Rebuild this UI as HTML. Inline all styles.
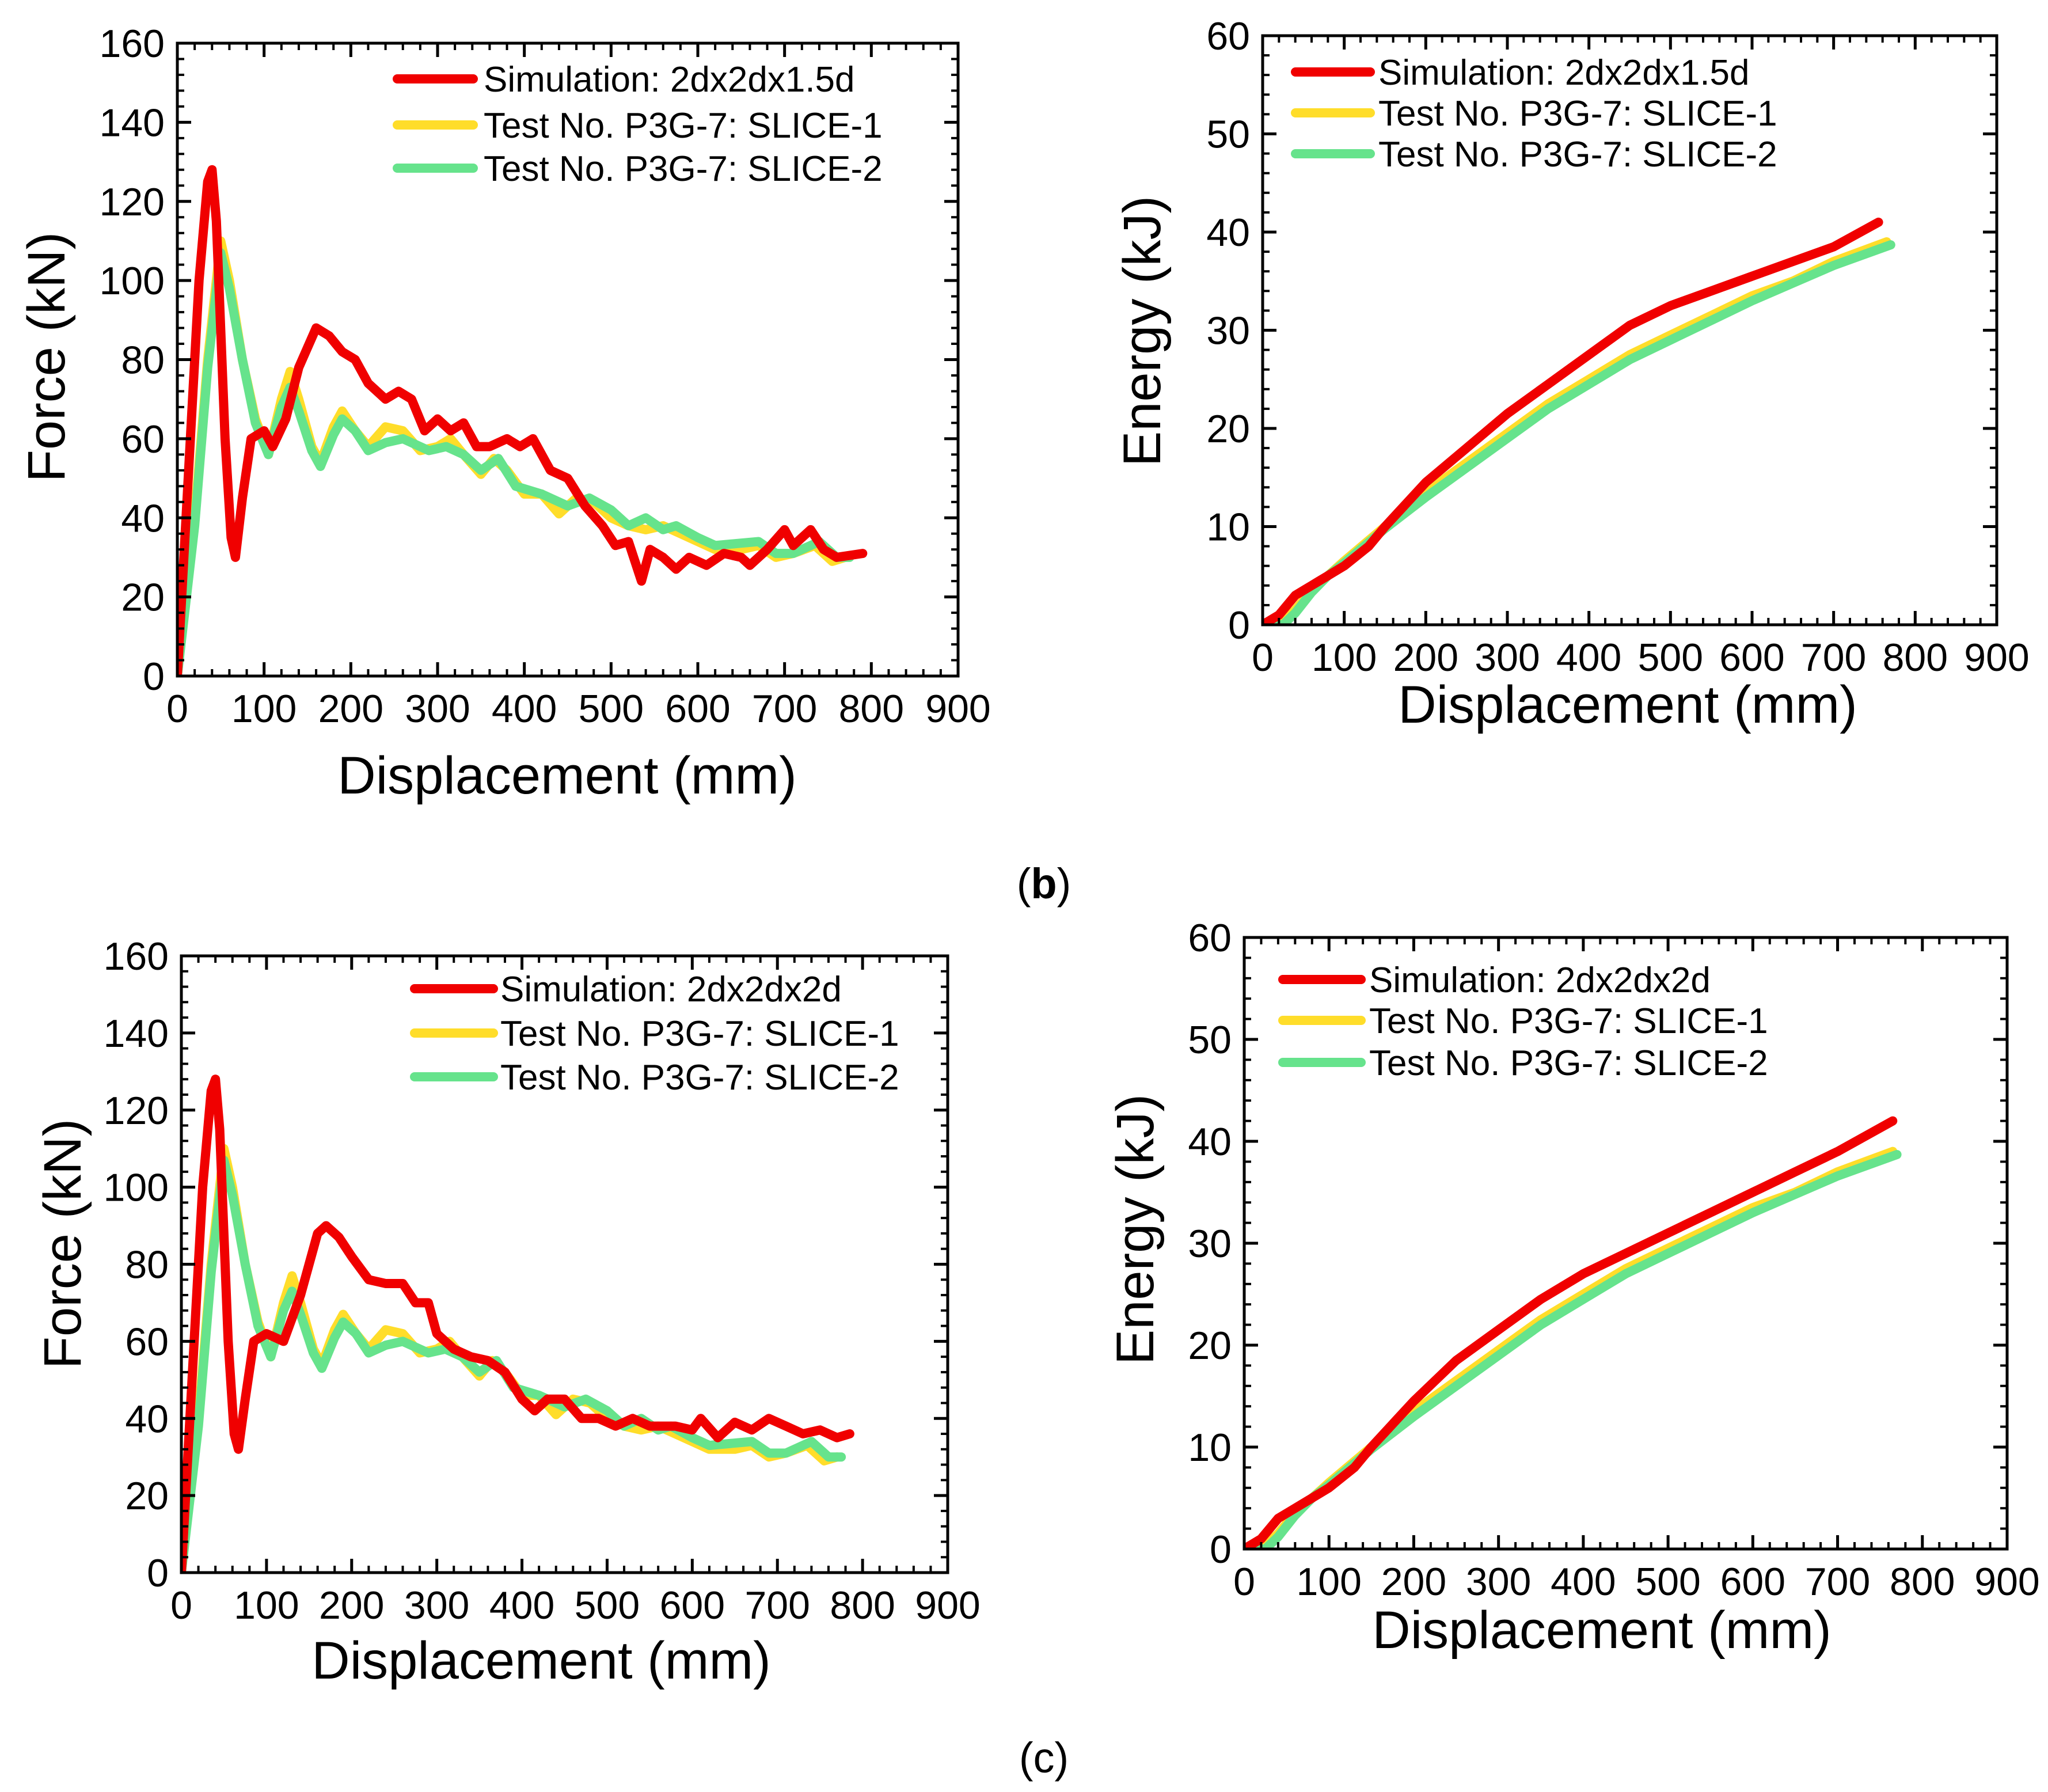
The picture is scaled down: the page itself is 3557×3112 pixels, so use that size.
<!DOCTYPE html>
<html><head><meta charset="utf-8">
<style>
html,body{margin:0;padding:0;background:#fff;}
svg{display:block;}
text{font-family:"Liberation Sans",sans-serif;}
</style></head>
<body>
<svg id="fig" width="3557" height="3112" viewBox="0 0 3557 3112" xmlns="http://www.w3.org/2000/svg">
<rect width="3557" height="3112" fill="#fff"/>
<text x="1813" y="1560" font-family="Liberation Serif, serif" font-size="74" text-anchor="middle">(<tspan font-weight="bold">b</tspan>)</text>
<text x="1813" y="3078" font-family="Liberation Serif, serif" font-size="74" text-anchor="middle">(c)</text>
</svg>
<script>
// ---- data (mm, kN / kJ) ----
const xTicks = [0,100,200,300,400,500,600,700,800,900];
const forceTicks = [0,20,40,60,80,100,120,140,160];
const energyTicks = [0,10,20,30,40,50,60];
const legendB = ["Simulation: 2dx2dx1.5d","Test No. P3G-7: SLICE-1","Test No. P3G-7: SLICE-2"];
const legendC = ["Simulation: 2dx2dx2d","Test No. P3G-7: SLICE-1","Test No. P3G-7: SLICE-2"];

const simForceB_x = [0,10,25,35,40,45,55,62,67,75,85,100,110,125,140,160,175,190,205,220,240,255,270,285,300,315,330,345,360,380,395,410,430,450,470,490,505,520,535,545,560,575,590,610,630,650,660,680,700,710,730,745,760,790];
const simForceB_y = [0,40,100,125,128,115,60,35,30,45,60,62,58,65,78,88,86,82,80,74,70,72,70,62,65,62,64,58,58,60,58,60,52,50,43,38,33,34,24,32,30,27,30,28,31,30,28,32,37,33,37,32,30,31];
const slice1Force_x = [0,20,35,50,60,75,90,105,120,130,140,155,165,180,190,205,220,240,260,280,300,315,330,350,365,380,400,420,440,460,480,500,520,540,560,580,600,620,650,670,690,710,735,755,770];
const slice1Force_y = [0,40,80,110,100,80,65,56,70,77,70,58,54,63,67,62,58,63,62,57,58,60,56,51,55,52,46,46,41,45,44,40,38,37,38,36,34,32,32,33,30,31,33,29,30];
const slice2Force_x = [0,20,35,50,60,75,90,105,120,130,140,155,165,180,190,205,220,240,260,290,310,330,350,370,390,420,450,475,500,520,540,560,575,600,620,670,690,710,740,760,775];
const slice2Force_y = [0,38,78,107,98,80,64,56,68,73,67,57,53,61,65,62,57,59,60,57,58,56,52,55,48,46,43,45,42,38,40,37,38,35,33,34,31,31,34,30,30];
const simForceC_x = [0,10,25,35,40,45,55,62,67,75,85,100,120,140,160,170,185,200,220,240,260,275,290,300,320,340,360,380,400,415,430,450,470,490,510,530,550,580,600,610,630,650,670,690,710,730,750,770,785];
const simForceC_y = [0,40,100,125,128,115,60,36,32,45,60,62,60,72,88,90,87,82,76,75,75,70,70,62,58,56,55,52,45,42,45,45,40,40,38,40,38,38,37,40,35,39,37,40,38,36,37,35,36];

const energy_x = [0,20,40,60,80,100,130,150,200,250,300,350,400,450,500,550,600,650,700,755];
const simEnergyB_y = [0,1,3,4,5,6,8,10,14.5,18,21.5,24.5,27.5,30.5,32.5,34,35.5,37,38.5,41];
const simEnergyC_x = [0,20,40,60,80,100,130,150,200,250,300,350,400,450,500,550,600,650,700,765];
const simEnergyC_y = [0,1,3,4,5,6,8,10,14.5,18.5,21.5,24.5,27,29,31,33,35,37,39,42];
const slice1Energy_x = [0,20,40,60,80,100,150,200,250,300,350,400,450,500,550,600,650,700,765];
const slice1Energy_y = [0,0,1.5,3.5,5,6.5,10,13.5,16.5,19.5,22.5,25,27.5,29.5,31.5,33.5,35,37,39];
const slice2Energy_x = [0,25,40,60,80,100,150,200,250,300,350,400,450,500,550,600,650,700,770];
const slice2Energy_y = [0,0,1.2,3.3,5,6.3,9.8,13,16,19,22,24.5,27,29,31,33,34.8,36.6,38.7];

const NS = "http://www.w3.org/2000/svg";
const svg = document.getElementById('fig');
function mk(tag, attrs, parent){ const e=document.createElementNS(NS,tag); for(const k in attrs) e.setAttribute(k,attrs[k]); (parent||svg).appendChild(e); return e; }

const COLORS = ["#f00000","#ffdd2a","#66e38c"];
const ORDER = [1,2,0];

function panel(p){
  const g = mk('g',{});
  
  
  const sx = v => p.l + (v-0)/(900)*(p.r-p.l);
  const sy = v => p.b - (v-p.ymin)/(p.ymax-p.ymin)*(p.b-p.t);
  const cid = p.name+'-clip';
  const cp = mk('clipPath',{id:cid},g); mk('rect',{x:p.l,y:p.t-10,width:p.r-p.l,height:p.b-p.t+10},cp);
  ORDER.forEach(i=>{
    const s=p.series[i];
    const pts = s.x.map((xv,j)=>sx(xv).toFixed(1)+','+sy(s.y[j]).toFixed(1)).join(' ');
    const pl = mk('polyline',{points:pts,fill:'none',stroke:COLORS[i],'stroke-width':16,'stroke-linejoin':'round','stroke-linecap':'round','clip-path':'url(#'+cid+')'},g);
    
    
  });
  const fr = mk('rect',{x:p.l,y:p.t,width:p.r-p.l,height:p.b-p.t,fill:'none',stroke:'#000','stroke-width':5},g);
  
  
  const xt = mk('g',{},g);
  
  
  xTicks.forEach((v,i)=>{
    const X=sx(v);
    mk('line',{x1:X,x2:X,y1:p.b,y2:p.b-24,stroke:'#000','stroke-width':5},xt);
    mk('line',{x1:X,x2:X,y1:p.t,y2:p.t+24,stroke:'#000','stroke-width':5},xt);
    if(i<xTicks.length-1) for(let k=1;k<5;k++){ const Xm=sx(v+k*20);
      mk('line',{x1:Xm,x2:Xm,y1:p.b,y2:p.b-12,stroke:'#000','stroke-width':4},xt);
      mk('line',{x1:Xm,x2:Xm,y1:p.t,y2:p.t+12,stroke:'#000','stroke-width':4},xt);}
    const t=mk('text',{x:X,y:p.b+80,'font-size':68,'text-anchor':'middle',fill:'#000'},xt);
    t.textContent=v;
  });
  const yt = mk('g',{},g);
  
  
  const step = p.yTicks[1]-p.yTicks[0];
  p.yTicks.forEach((v,i)=>{
    const Y=sy(v);
    mk('line',{x1:p.l,x2:p.l+24,y1:Y,y2:Y,stroke:'#000','stroke-width':5},yt);
    mk('line',{x1:p.r,x2:p.r-24,y1:Y,y2:Y,stroke:'#000','stroke-width':5},yt);
    if(i<p.yTicks.length-1) for(let k=1;k<5;k++){ const Ym=sy(v+k*step/5);
      mk('line',{x1:p.l,x2:p.l+12,y1:Ym,y2:Ym,stroke:'#000','stroke-width':4},yt);
      mk('line',{x1:p.r,x2:p.r-12,y1:Ym,y2:Ym,stroke:'#000','stroke-width':4},yt);}
    const t=mk('text',{x:p.l-22,y:Y+24,'font-size':68,'text-anchor':'end',fill:'#000'},yt);
    t.textContent=v;
  });
  const xtl = mk('text',{x:p.xtx,y:p.xty,'font-size':92,'text-anchor':'middle',fill:'#000'},g);
  
  
  xtl.textContent='Displacement (mm)';
  const ytl = mk('text',{x:0,y:0,'font-size':92,'text-anchor':'middle',fill:'#000',transform:'translate('+p.ytx+','+p.yty+') rotate(-90)'},g);
  
  
  ytl.textContent=p.ytitle;
  const lg = mk('g',{},g);
  
  
  p.legend.forEach((txt,i)=>{
    const Y=p.lg.y[i];
    const ln = mk('line',{x1:p.lg.x1,x2:p.lg.x2,y1:Y,y2:Y,stroke:COLORS[i],'stroke-width':16,'stroke-linecap':'round'},lg);
    
    
    const t = mk('text',{x:p.lg.tx,y:Y+22,'font-size':62,fill:'#000'},lg);
    
    
    t.textContent=txt;
  });
}

panel({name:'force-chart-b', l:308,r:1664,t:75,b:1174, ymin:0,ymax:160, yTicks:forceTicks, ytitle:'Force (kN)',
  xtx:985,xty:1378, ytx:112,yty:620, legend:legendB, lg:{x1:690,x2:822,tx:840,y:[137,217,292]},
  series:[{name:'simulation-line',x:simForceB_x,y:simForceB_y},{name:'slice-1-line',x:slice1Force_x,y:slice1Force_y},{name:'slice-2-line',x:slice2Force_x,y:slice2Force_y}]});
panel({name:'energy-chart-b', l:2193,r:3468,t:62,b:1085, ymin:0,ymax:60, yTicks:energyTicks, ytitle:'Energy (kJ)',
  xtx:2827,xty:1255, ytx:2015,yty:575, legend:legendB, lg:{x1:2250,x2:2380,tx:2394,y:[125,196,267]},
  series:[{name:'simulation-line',x:energy_x,y:simEnergyB_y},{name:'slice-1-line',x:slice1Energy_x,y:slice1Energy_y},{name:'slice-2-line',x:slice2Energy_x,y:slice2Energy_y}]});
panel({name:'force-chart-c', l:315,r:1646,t:1660,b:2731, ymin:0,ymax:160, yTicks:forceTicks, ytitle:'Force (kN)',
  xtx:940,xty:2915, ytx:140,yty:2160, legend:legendC, lg:{x1:720,x2:857,tx:869,y:[1717,1794,1870]},
  series:[{name:'simulation-line',x:simForceC_x,y:simForceC_y},{name:'slice-1-line',x:slice1Force_x,y:slice1Force_y},{name:'slice-2-line',x:slice2Force_x,y:slice2Force_y}]});
panel({name:'energy-chart-c', l:2161,r:3486,t:1628,b:2690, ymin:0,ymax:60, yTicks:energyTicks, ytitle:'Energy (kJ)',
  xtx:2782,xty:2862, ytx:2003,yty:2135, legend:legendC, lg:{x1:2228,x2:2364,tx:2378,y:[1701,1772,1845]},
  series:[{name:'simulation-line',x:simEnergyC_x,y:simEnergyC_y},{name:'slice-1-line',x:slice1Energy_x,y:slice1Energy_y},{name:'slice-2-line',x:slice2Energy_x,y:slice2Energy_y}]});
</script>
</body></html>
